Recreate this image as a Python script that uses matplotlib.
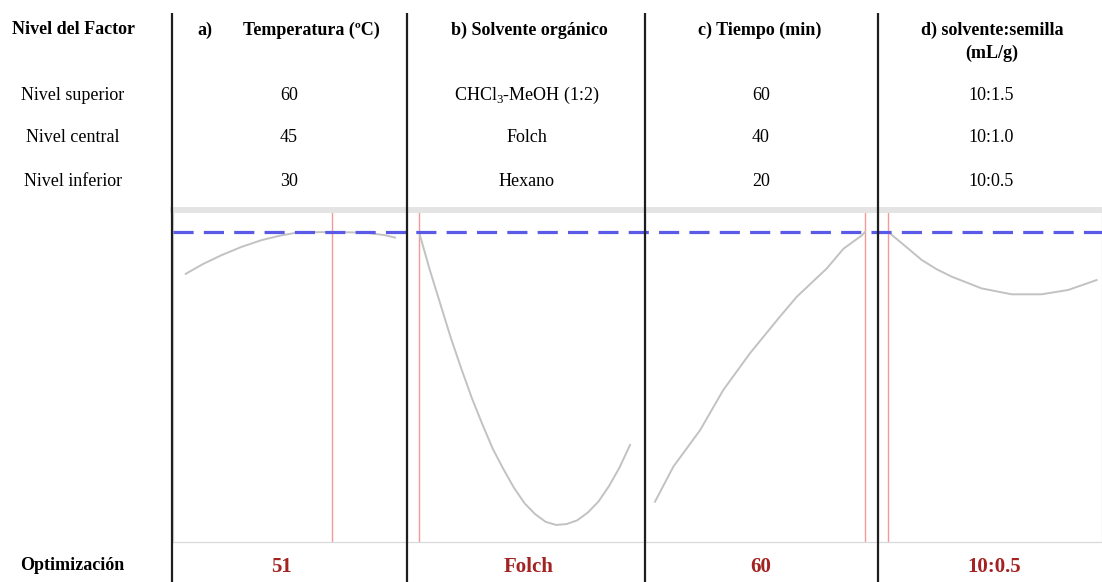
import matplotlib
matplotlib.use("Agg")
import matplotlib.pyplot as plt

plt.rcParams["font.family"] = ["Liberation Serif", "DejaVu Serif"]
plt.rcParams["mathtext.fontset"] = "custom"
plt.rcParams["mathtext.rm"] = "Liberation Serif"

# ---- table content ----
row_header = "Nivel del Factor"
row_labels = ["Nivel superior", "Nivel central", "Nivel inferior"]
opt_label = "Optimización"
factor_titles = ["Temperatura (ºC)", "b) Solvente orgánico", "c) Tiempo (min)",
                 "d) solvente:semilla\n(mL/g)"]
level_values = [
    ["60", "45", "30"],
    ["CHCl$_\\mathregular{3}$-MeOH (1:2)", "Folch", "Hexano"],
    ["60", "40", "20"],
    ["10:1.5", "10:1.0", "10:0.5"],
]
optimum_labels = ["51", "Folch", "60", "10:0.5"]

# ---- desirability profiles (response vs factor) ----
temp_x = [30, 32.5, 35.2, 38, 40.9, 43.5, 46.1, 51, 55.7, 58.5, 60]
temp_d = [0.865, 0.897, 0.926, 0.952, 0.974, 0.988, 0.999, 1.0, 0.998, 0.990, 0.982]

solv_x = [-1.0, -0.9, -0.8, -0.7, -0.6, -0.5, -0.4, -0.3, -0.2, -0.1, 0.0,
          0.1, 0.2, 0.3, 0.4, 0.5, 0.6, 0.7, 0.8, 0.9, 1.0]
solv_d = [1.0, 0.88, 0.77, 0.66, 0.56, 0.465, 0.38, 0.30, 0.235, 0.175, 0.125,
          0.09, 0.065, 0.055, 0.058, 0.07, 0.095, 0.13, 0.18, 0.24, 0.313]

time_x = [20, 23.5, 28.6, 33, 38.1, 43.8, 47, 52.7, 55.9, 59.4, 60]
time_d = [0.130, 0.243, 0.361, 0.490, 0.609, 0.727, 0.791, 0.882, 0.946, 0.989, 1.0]

ratio_x = [0.5, 0.58, 0.659, 0.73, 0.802, 0.945, 1.088, 1.23, 1.357, 1.492]
ratio_d = [1.0, 0.955, 0.910, 0.880, 0.856, 0.818, 0.799, 0.799, 0.813, 0.845]

optimum_x = [51, -1.0, 60, 0.5]
target_d = 1.0

profiles = [(temp_x, temp_d), (solv_x, solv_d), (time_x, time_d), (ratio_x, ratio_d)]
xlims = [(28.18, 61.72), (-1.114, 1.142), (18.1, 62.48), (0.451, 1.518)]

W, H = 1102, 582
fig = plt.figure(figsize=(W / 100, H / 100), dpi=100)

# panel geometry in pixels
panel_edges = [173, 407, 645, 878, 1102]
y_top, y_bot = 210, 542
ylim = (0, 1.071)

def frac_rect(x0, x1):
    return [x0 / W, (H - y_bot) / H, (x1 - x0) / W, (y_bot - y_top) / H]

curve_color = "#c2c2c2"
red_color = "#f29a9a"
for i, ((xs, ds), xl) in enumerate(zip(profiles, xlims)):
    ax = fig.add_axes(frac_rect(panel_edges[i], panel_edges[i + 1]))
    ax.plot(xs, ds, color=curve_color, lw=1.4, zorder=3)
    ax.axvline(optimum_x[i], color=red_color, lw=1.0, zorder=2)
    ax.set_xlim(*xl)
    ax.set_ylim(*ylim)
    ax.set_xticks([])
    ax.set_yticks([])
    for side in ("left", "right", "bottom"):
        ax.spines[side].set_color("#d9d9d9")
        ax.spines[side].set_linewidth(0.9)
    ax.spines["top"].set_color("#e4e4e4")
    ax.spines["top"].set_linewidth(4.3)

# target desirability line across all panels
axd = fig.add_axes(frac_rect(panel_edges[0], panel_edges[-1]))
axd.set_xlim(0, 1)
axd.set_ylim(*ylim)
axd.axis("off")
axd.patch.set_alpha(0)
axd.axhline(target_d, color="#5a5ae6", lw=2.3, linestyle=(0, (6.3, 3.2)), zorder=5)

# table overlay in pixel space
ov = fig.add_axes([0, 0, 1, 1], zorder=10)
ov.set_xlim(0, W)
ov.set_ylim(H, 0)
ov.axis("off")
ov.patch.set_alpha(0)

for xv in [171.5, 407, 645, 878]:
    ov.plot([xv, xv], [13, H], color="#1e1e1e", lw=1.6, solid_capstyle="butt")

fs = 13
ov.text(73, 30, row_header, ha="center", va="center", fontsize=fs, fontweight="bold")
for y, lab in zip([95, 138, 181], row_labels):
    ov.text(73, y, lab, ha="center", va="center", fontsize=fs)
ov.text(72, 566, opt_label, ha="center", va="center", fontsize=fs, fontweight="bold")

ov.text(204.5, 30, "a)", ha="center", va="center", fontsize=fs, fontweight="bold")
title_x = [311.5, 529, 760, 992]
value_x = [289, 527, 761, 991]
opt_x = [282, 529, 761, 994]
for j in range(4):
    if "\n" in factor_titles[j]:
        l1, l2 = factor_titles[j].split("\n")
        ov.text(title_x[j], 30, l1, ha="center", va="center", fontsize=fs, fontweight="bold")
        ov.text(title_x[j], 53, l2, ha="center", va="center", fontsize=fs, fontweight="bold")
    else:
        ov.text(title_x[j], 30, factor_titles[j], ha="center", va="center",
                fontsize=fs, fontweight="bold")
    for y, v in zip([95, 138, 181], level_values[j]):
        ov.text(value_x[j], y, v, ha="center", va="center", fontsize=fs)
    ov.text(opt_x[j], 567, optimum_labels[j], ha="center", va="center",
            fontsize=15, fontweight="bold", color="#a32222")

fig.savefig("out.png", dpi=100)
